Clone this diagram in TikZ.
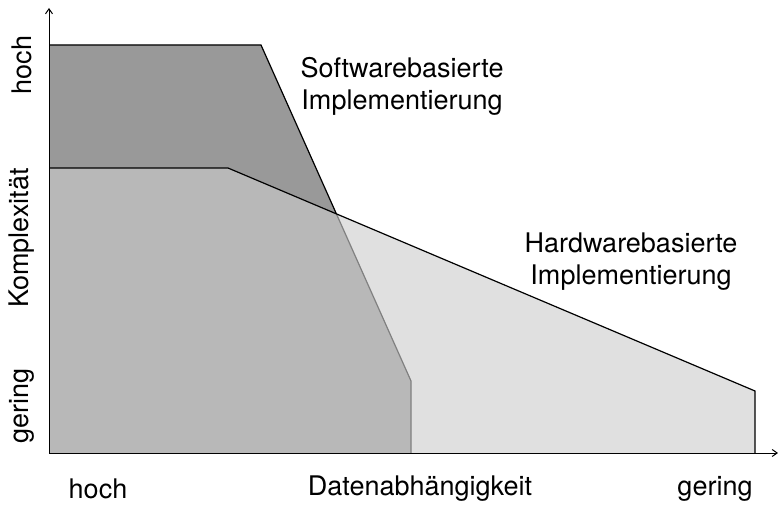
\documentclass[tikz,border=0pt]{standalone}
\usepackage{fontspec}
\setmainfont{TeX Gyre Heros}
\usetikzlibrary{arrows.meta}
\definecolor{swdark}{HTML}{999999}
\definecolor{overlap}{HTML}{B8B8B8}
\definecolor{hwlight}{HTML}{E0E0E0}
\definecolor{edgegray}{HTML}{808080}
\tikzset{
  lbl/.style={font=\fontsize{27}{32}\selectfont, inner sep=0pt, align=center},
  edge/.style={line width=1.2pt, black, line join=miter},
  softedge/.style={line width=1.2pt, edgegray},
  axis/.style={line width=1pt, black, -{Straight Barb[length=5pt,width=7pt]}}
}
\begin{document}
\begin{tikzpicture}[x=1pt,y=-1pt]
\useasboundingbox (0,0) rectangle (778,505);
% key points
\coordinate (O) at (49,453);
\coordinate (S1) at (49,45);
\coordinate (S2) at (261,45);
\coordinate (I) at (336.4,213.9);
\coordinate (S3) at (411,381);
\coordinate (S4) at (411,453);
\coordinate (H1) at (49,168);
\coordinate (H2) at (228,168);
\coordinate (H3) at (755,391);
\coordinate (H4) at (755,453);
% fills
\fill[hwlight] (O) -- (H1) -- (H2) -- (H3) -- (H4) -- cycle;
\fill[overlap] (O) -- (S1) -- (S2) -- (S3) -- (S4) -- cycle;
\fill[swdark] (H1) -- (S1) -- (S2) -- (I) -- (H2) -- cycle;
% edges
\draw[softedge] (I) -- (S3) -- (S4);
\draw[edge] (S1) -- (S2) -- (I);
\draw[edge] (H1) -- (H2) -- (H3) -- (H4);
% axes
\coordinate (Ytop) at (49,8);
\coordinate (Xend) at (778,453);
\draw[axis] (O) -- (Ytop);
\draw[axis] (O) -- (Xend);
% labels
\node[lbl] (sw) at (402,86) {Softwarebasierte\\Implementierung};
\node[lbl] (hw) at (631,262) {Hardwarebasierte\\Implementierung};
\node[lbl, rotate=90] (yh) at (22,65) {hoch};
\node[lbl, rotate=90] (yk) at (22,238) {Komplexität};
\node[lbl, rotate=90] (yg) at (22,406) {gering};
\node[lbl] (xh) at (98,489) {hoch};
\node[lbl] (xd) at (420,489) {Datenabhängigkeit};
\node[lbl] (xg) at (715,489) {gering};
\end{tikzpicture}
\end{document}
